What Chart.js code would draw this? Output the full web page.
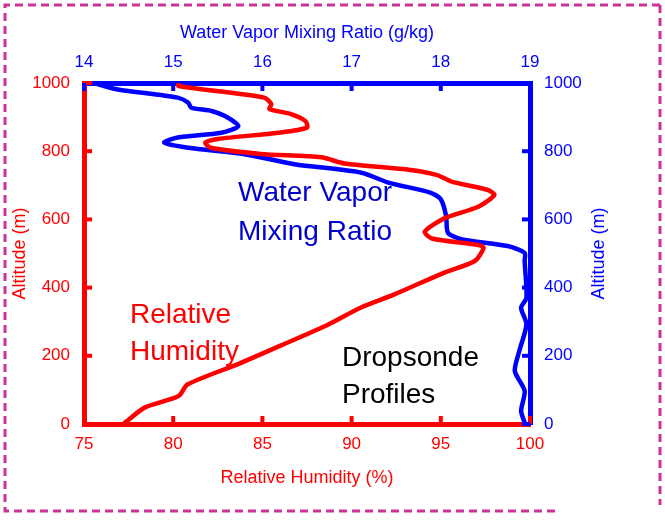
<!DOCTYPE html>
<html><head><meta charset="utf-8">
<script src="https://cdn.jsdelivr.net/npm/chart.js@4"></script>
<style>body{margin:0;background:#fff}#wrap{width:665px;height:523px}</style>
</head><body><div id="wrap"><canvas id="c" width="665" height="523"></canvas></div>
<script>
// relative humidity (%) vs altitude (m)
const rhAlt = [0,4,48,82,116,175,234,292,341,380,444,478,517,525,544,564,603,637,672,687,711,730,745,764,782,792,810,825,836,854,869,889,909,924,938,957,991,1000];
const rhVal = [77.2,77.3,78.4,80.3,80.8,83.6,86.2,88.7,90.5,92.4,95.2,96.9,97.4,97.1,94.5,94.1,95.2,97.1,98.0,97.6,95.6,94.8,93.3,89.6,88.3,84.9,82.1,81.8,82.5,85.9,87.5,87.4,86.6,85.4,85.5,85.1,80.3,80.3];
// water vapor mixing ratio (g/kg) vs altitude (m)
const wvAlt = [0,4,38,97,155,214,292,341,370,478,502,522,542,561,610,659,678,708,737,762,791,810,825,840,854,874,903,918,928,942,957,981,996,1000];
const wvVal = [18.94,18.94,18.9,18.94,18.83,18.88,18.96,18.9,18.96,18.94,18.94,18.75,18.23,18.08,18.06,18.0,17.89,17.41,17.11,16.36,15.8,15.17,14.9,15.05,15.54,15.73,15.58,15.43,15.2,15.17,15.05,14.38,14.16,14.15];
const rhTicks = [75,80,85,90,95,100];
const wvTicks = [14,15,16,17,18,19];
const altTicks = [0,200,400,600,800,1000];

const RED = '#ff0000', BLUE = '#0000ff';
const FONT = 'Liberation Sans, Arial, sans-serif';

const decor = {
  id: 'decor',
  afterDraw(ch) {
    const c = ch.ctx, s = ch.scales, a = ch.chartArea;
    c.save();
    // inward ticks
    c.lineWidth = 4;
    c.strokeStyle = RED;
    altTicks.forEach(v => { const y = s.y.getPixelForValue(v); c.beginPath(); c.moveTo(a.left, y); c.lineTo(a.left + 8, y); c.stroke(); });
    rhTicks.forEach(v => { const x = s.x.getPixelForValue(v); c.beginPath(); c.moveTo(x, a.bottom); c.lineTo(x, a.bottom - 8); c.stroke(); });
    c.strokeStyle = BLUE;
    altTicks.forEach(v => { const y = s.y2.getPixelForValue(v); c.beginPath(); c.moveTo(a.right, y); c.lineTo(a.right - 8, y); c.stroke(); });
    wvTicks.forEach(v => { const x = s.x2.getPixelForValue(v); c.beginPath(); c.moveTo(x, a.top); c.lineTo(x, a.top + 8); c.stroke(); });
    // titles
    c.font = '18px ' + FONT;
    c.textAlign = 'center'; c.textBaseline = 'middle';
    c.fillStyle = RED; c.fillText('Relative Humidity (%)', (a.left + a.right) / 2, 478);
    c.fillStyle = BLUE; c.fillText('Water Vapor Mixing Ratio (g/kg)', (a.left + a.right) / 2, 33);
    c.save(); c.translate(20, (a.top + a.bottom) / 2); c.rotate(-Math.PI / 2); c.fillStyle = RED; c.fillText('Altitude (m)', 0, 0); c.restore();
    c.save(); c.translate(599, (a.top + a.bottom) / 2); c.rotate(-Math.PI / 2); c.fillStyle = BLUE; c.fillText('Altitude (m)', 0, 0); c.restore();
    // annotations
    c.font = '28px ' + FONT;
    c.textAlign = 'left'; c.textBaseline = 'alphabetic';
    c.fillStyle = '#0000cc'; c.fillText('Water Vapor', 238, 201); c.fillText('Mixing Ratio', 238, 240);
    c.fillStyle = RED; c.fillText('Relative', 130, 323); c.fillText('Humidity', 130, 360);
    c.fillStyle = '#000'; c.fillText('Dropsonde', 342, 366); c.fillText('Profiles', 342, 403);
    // dashed frame
    c.strokeStyle = '#cc3399'; c.lineWidth = 3; c.setLineDash([8, 5]);
    c.beginPath(); c.moveTo(660, 5); c.lineTo(5, 5); c.lineTo(5, 511); c.lineTo(560, 511); c.stroke();
    c.beginPath(); c.moveTo(660, 5); c.lineTo(660, 505); c.stroke();
    c.restore();
  }
};

const plain = v => String(v);

new Chart(document.getElementById('c'), {
  type: 'scatter',
  data: {
    datasets: [
      { data: rhAlt.map((h, i) => ({ x: rhVal[i], y: h })), xAxisID: 'x', yAxisID: 'y', showLine: true, borderColor: RED, borderWidth: 4.5, pointRadius: 0, tension: 0.25 },
      { data: wvAlt.map((h, i) => ({ x: wvVal[i], y: h })), xAxisID: 'x2', yAxisID: 'y', showLine: true, borderColor: BLUE, borderWidth: 4.5, pointRadius: 0, tension: 0.25 }
    ]
  },
  options: {
    responsive: false, animation: false,
    layout: { padding: 0 },
    plugins: { legend: { display: false }, tooltip: { enabled: false } },
    scales: {
      x: { position: 'bottom', min: 75, max: 100, afterBuildTicks: s => { s.ticks = rhTicks.map(v => ({ value: v })); },
        afterFit: s => { s.height = 99; },
        grid: { display: false }, border: { color: RED, width: 5 },
        ticks: { color: RED, font: { family: FONT, size: 17 }, padding: 2, callback: plain } },
      x2: { position: 'top', min: 14, max: 19, afterBuildTicks: s => { s.ticks = wvTicks.map(v => ({ value: v })); },
        afterFit: s => { s.height = 83; },
        grid: { display: false }, border: { color: BLUE, width: 5 },
        ticks: { color: BLUE, font: { family: FONT, size: 17 }, padding: 2, callback: plain } },
      y: { position: 'left', min: 0, max: 1000, afterBuildTicks: s => { s.ticks = altTicks.map(v => ({ value: v })); },
        afterFit: s => { s.width = 84; },
        grid: { display: false }, border: { color: RED, width: 5 },
        ticks: { color: RED, font: { family: FONT, size: 17 }, padding: 6, callback: plain } },
      y2: { position: 'right', min: 0, max: 1000, afterBuildTicks: s => { s.ticks = altTicks.map(v => ({ value: v })); },
        afterFit: s => { s.width = 135; },
        grid: { display: false }, border: { color: BLUE, width: 5 },
        ticks: { color: BLUE, font: { family: FONT, size: 17 }, padding: 6, callback: plain } }
    }
  },
  plugins: [decor]
});
</script></body></html>
